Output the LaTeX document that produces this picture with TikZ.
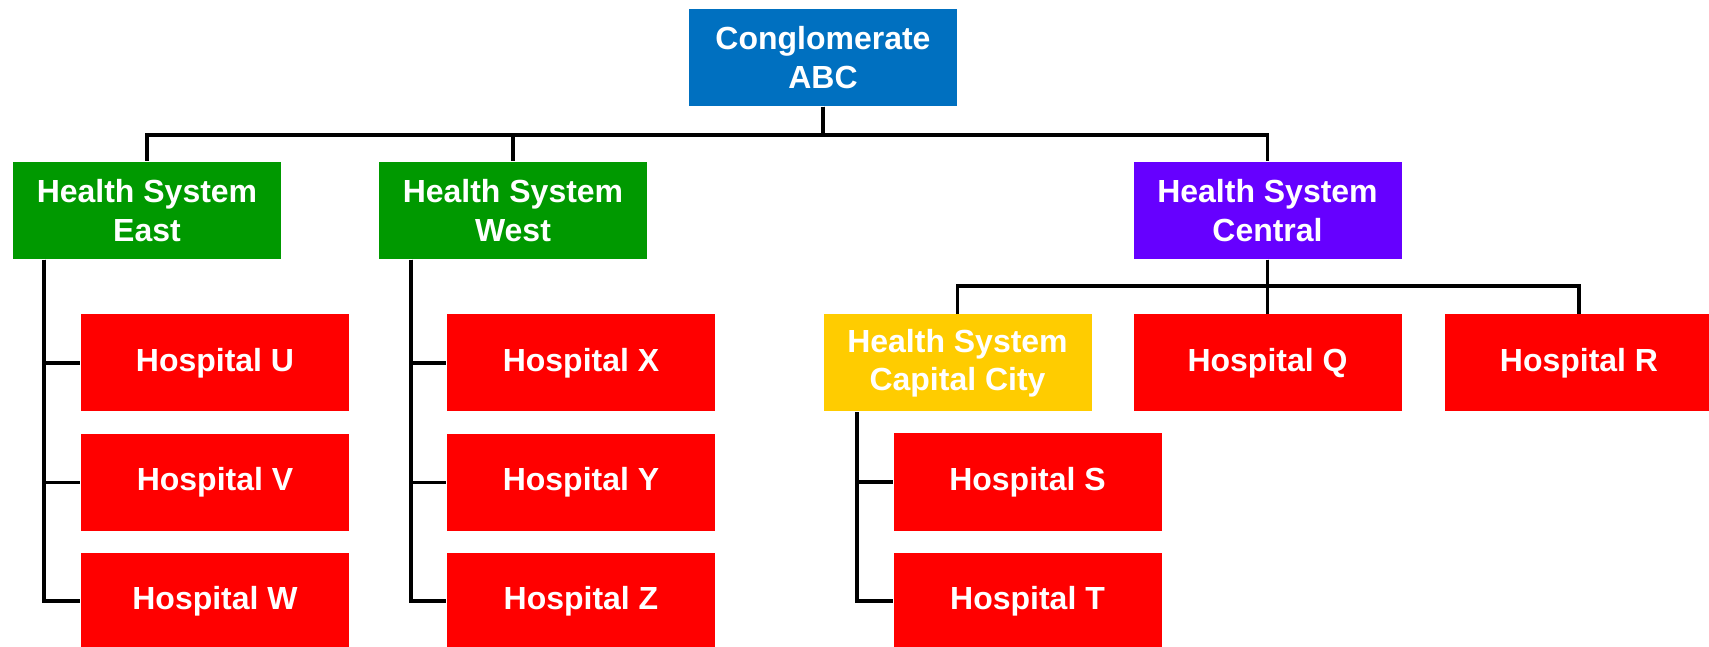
\documentclass[tikz,border=0pt]{standalone}
\usepackage{fontspec}
\setmainfont{Liberation Sans}
\definecolor{topblue}{HTML}{0070C0}
\definecolor{sysgreen}{HTML}{009900}
\definecolor{syspurple}{HTML}{6600FF}
\definecolor{sysgold}{HTML}{FFCC00}
\definecolor{hospred}{HTML}{FF0000}

\begin{document}
\begin{tikzpicture}[
    box/.style={rectangle,inner sep=0pt,minimum width=2.68cm,minimum height=0.97cm,
      align=center,text=white,font=\fontsize{9.1}{10.9}\selectfont\bfseries},
    org/.style={box,fill=topblue},
    hsys/.style={box,fill=sysgreen},
    hosp/.style={box,fill=hospred},
    link/.style={draw=black,line width=1.05pt}
  ]
  \useasboundingbox (0,0) rectangle (17.09,-6.47);

  % top level
  \node[org] (abc) at (8.23,-0.575) {Conglomerate\\ABC};

  % health systems
  \node[hsys] (east)    at (1.47,-2.105)   {Health System\\East};
  \node[hsys] (west)    at (5.13,-2.105)   {Health System\\West};
  \node[box,fill=syspurple] (central) at (12.675,-2.105) {Health System\\Central};

  % east hospitals
  \node[hosp] (hospU) at (2.15,-3.63)  {Hospital U};
  \node[hosp] (hospV) at (2.15,-4.825) {Hospital V};
  \node[hosp] (hospW) at (2.15,-6.01)  {Hospital W};

  % west hospitals
  \node[hosp] (hospX) at (5.81,-3.63)  {Hospital X};
  \node[hosp] (hospY) at (5.81,-4.825) {Hospital Y};
  \node[hosp] (hospZ) at (5.81,-6.01)  {Hospital Z};

  % central members
  \node[box,fill=sysgold] (capital) at (9.575,-3.63) {Health System\\Capital City};
  \node[hosp] (hospQ) at (12.675,-3.63) {Hospital Q};
  \node[hosp] (hospR) at (15.79,-3.63)  {Hospital R};

  % capital city hospitals
  \node[hosp] (hospS) at (10.275,-4.82) {Hospital S};
  \node[hosp] (hospT) at (10.275,-6.01) {Hospital T};

  % top bus
  \draw[link] (abc.south) -- ++(0,-0.28) -| (east.north);
  \draw[link] (abc.south) -- ++(0,-0.28) -| (west.north);
  \draw[link] (abc.south) -- ++(0,-0.28) -| (central.north);

  % central bus
  \draw[link] (central.south) -- ++(0,-0.26) -| (capital.north);
  \draw[link] (central.south) -- (hospQ.north);
  \draw[link] (central.south) -- ++(0,-0.26) -| (hospR.north);

  % side rails
  \draw[link] (east.south west) ++(0.32,0) |- (hospU.west);
  \draw[link] (east.south west) ++(0.32,0) |- (hospV.west);
  \draw[link] (east.south west) ++(0.32,0) |- (hospW.west);
  \draw[link] (west.south west) ++(0.33,0) |- (hospX.west);
  \draw[link] (west.south west) ++(0.33,0) |- (hospY.west);
  \draw[link] (west.south west) ++(0.33,0) |- (hospZ.west);
  \draw[link] (capital.south west) ++(0.34,0) |- (hospS.west);
  \draw[link] (capital.south west) ++(0.34,0) |- (hospT.west);
\end{tikzpicture}
\end{document}
